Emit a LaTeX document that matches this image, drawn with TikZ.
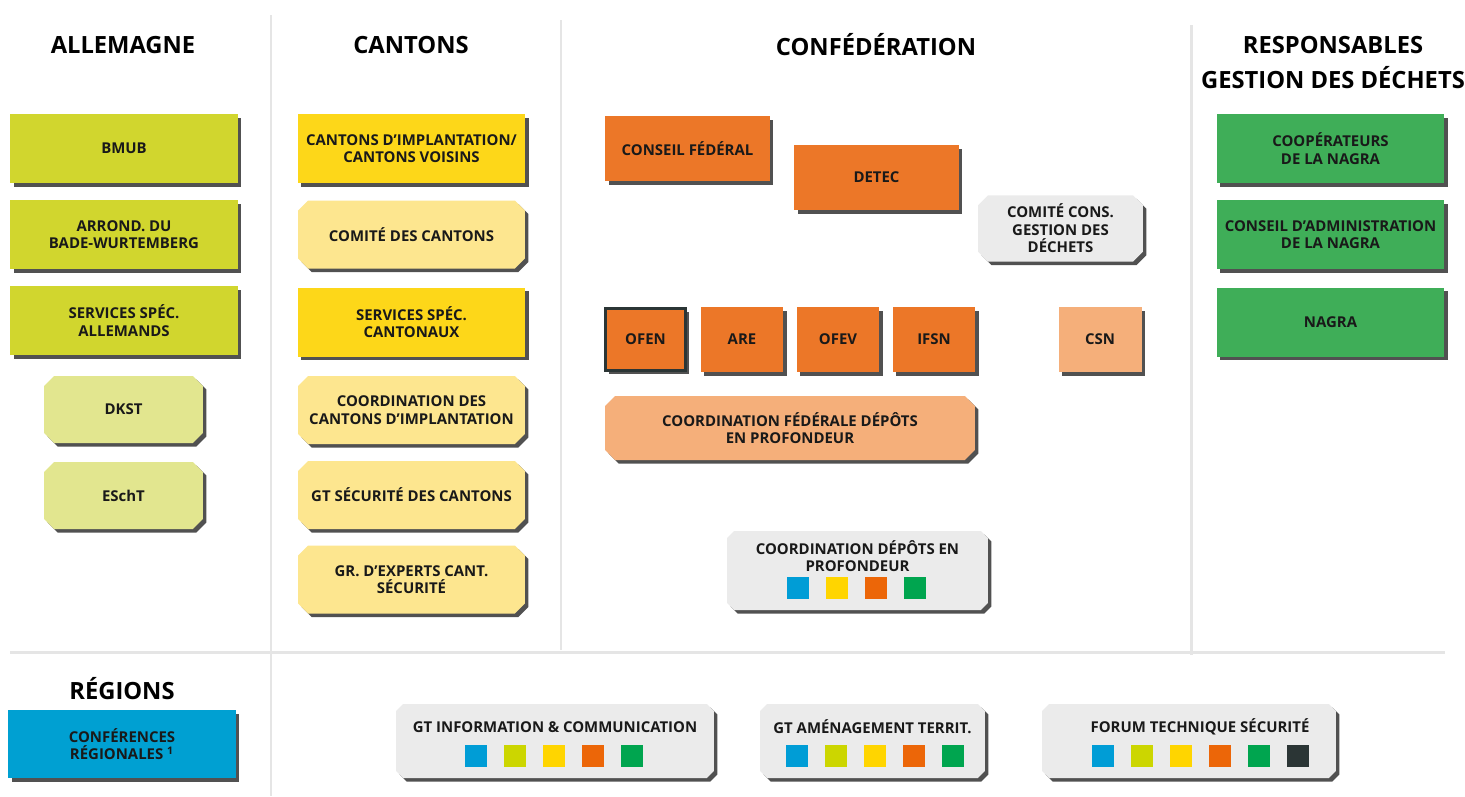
\documentclass[tikz,border=0pt]{standalone}
\usepackage{fontspec}
\setmainfont{Open Sans}
\usepackage{tikz}
\usetikzlibrary{shapes.misc,shadows}
\definecolor{lime}{HTML}{D1D62E}
\definecolor{lightlime}{HTML}{E2E68F}
\definecolor{cantyellow}{HTML}{FDD719}
\definecolor{lightyellow}{HTML}{FDE68F}
\definecolor{fedorange}{HTML}{EC7728}
\definecolor{lightorange}{HTML}{F5AF7A}
\definecolor{paleGray}{HTML}{EBEBEB}
\definecolor{nagragreen}{HTML}{3FAE58}
\definecolor{regblue}{HTML}{00A0D2}
\definecolor{sqblue}{HTML}{009DD6}
\definecolor{sqlime}{HTML}{CCD600}
\definecolor{sqyellow}{HTML}{FFD500}
\definecolor{sqorange}{HTML}{EC6608}
\definecolor{sqgreen}{HTML}{00A54F}
\definecolor{sqdark}{HTML}{2B3535}

\begin{document}
\begin{tikzpicture}[x=0.02cm,y=-0.02cm]
		\tikzstyle{box}=[rectangle, align=center, text=black!90, inner sep=2pt, font=\bfseries\fontsize{8.5}{10}\selectfont, drop shadow={shadow xshift=0.07cm, shadow yshift=-0.07cm, fill=black!85, opacity=0.8}]
		\tikzstyle{cbox}=[box, chamfered rectangle, chamfered rectangle xsep=0.1cm, chamfered rectangle ysep=0.1cm]
		\tikzstyle{wide}=[minimum width=4.56cm, minimum height=1.38cm]
		\tikzstyle{mid}=[minimum width=3.3cm, minimum height=1.3cm]
		\tikzstyle{small}=[minimum width=1.66cm, minimum height=1.3cm]
		\tikzstyle{heading}=[font=\bfseries\fontsize{13.5}{20}\selectfont, align=center]
		\tikzstyle{tag}=[rectangle, minimum size=0.44cm, inner sep=0pt]
		\tikzstyle{sep-line}=[color=black!10, line width=1.7pt]
		\useasboundingbox (0,0) rectangle (1465,796);
		% separators
		\draw [sep-line] (271,15) -- (271,796);
		\draw [sep-line] (561,20) -- (561,650);
		\draw [sep-line] (1191,25) -- (1191,655);
		\draw [sep-line] (10,652) -- (1445,652);
		% headings
		\node [heading] at (123,45) (h-de) {ALLEMAGNE};
		\node [heading] at (411,45) (h-cant) {CANTONS};
		\node [heading] at (876,45) (h-conf) {CONFÉDÉRATION};
		\node [heading] at (1333,62.5) (h-resp) {RESPONSABLES\\GESTION DES DÉCHETS};
		\node [heading] at (122,689) (h-reg) {RÉGIONS};
		% Allemagne
		\node [box, wide, fill=lime] at (124,148.5) (bmub) {BMUB};
		\node [box, wide, fill=lime] at (124,234.5) (arrond) {ARROND. DU\\BADE-WURTEMBERG};
		\node [box, wide, fill=lime] at (124,320.5) (spec-de) {SERVICES SPÉC.\\ALLEMANDS};
		\node [cbox, minimum width=3.18cm, minimum height=1.34cm, fill=lightlime] at (123.5,409.5) (dkst) {DKST};
		\node [cbox, minimum width=3.18cm, minimum height=1.34cm, fill=lightlime] at (123.5,495.5) (escht) {ESchT};
		% Cantons
		\node [box, wide, fill=cantyellow] at (411.5,148.5) (implant) {CANTONS D’IMPLANTATION/\\CANTONS VOISINS};
		\node [cbox, wide, minimum width=4.54cm, minimum height=1.36cm, fill=lightyellow] at (411.5,234.5) (comite-cant) {COMITÉ DES CANTONS};
		\node [box, wide, fill=cantyellow] at (411.5,322) (spec-cant) {SERVICES SPÉC.\\CANTONAUX};
		\node [cbox, wide, minimum width=4.54cm, minimum height=1.36cm, fill=lightyellow] at (411.5,410) (coord-cant) {COORDINATION DES\\CANTONS D’IMPLANTATION};
		\node [cbox, wide, minimum width=4.54cm, minimum height=1.36cm, fill=lightyellow] at (411.5,495) (gt-secu) {GT SÉCURITÉ DES CANTONS};
		\node [cbox, wide, minimum width=4.54cm, minimum height=1.36cm, fill=lightyellow] at (411.5,579.5) (experts) {GR. D’EXPERTS CANT.\\SÉCURITÉ};
		% Confederation
		\node [box, mid, fill=fedorange] at (687.5,148.5) (conseil) {CONSEIL FÉDÉRAL};
		\node [box, mid, fill=fedorange] at (876.5,177.5) (detec) {DETEC};
		\node [cbox, minimum width=3.3cm, minimum height=1.3cm, fill=paleGray] at (1060.5,228.5) (comite-dechets) {COMITÉ CONS.\\GESTION DES\\DÉCHETS};
		\node [box, small, fill=fedorange, draw=sqdark, line width=1.7pt, minimum width=1.6cm, minimum height=1.24cm] at (645.5,339.5) (ofen) {OFEN};
		\node [box, small, fill=fedorange] at (742,339.5) (are) {ARE};
		\node [box, small, fill=fedorange] at (838,339.5) (ofev) {OFEV};
		\node [box, small, fill=fedorange] at (934,339.5) (ifsn) {IFSN};
		\node [box, small, fill=lightorange] at (1100,339.5) (csn) {CSN};
		\node [cbox, minimum width=7.4cm, minimum height=1.28cm, fill=lightorange] at (790,428) (coord-fed) {COORDINATION FÉDÉRALE DÉPÔTS\\EN PROFONDEUR};
		\node [cbox, minimum width=5.22cm, minimum height=1.58cm, fill=paleGray] at (857.5,570.5) (coord-dep) {};
		\node [align=center, font=\bfseries\fontsize{8.5}{10}\selectfont, text=black!90] at (857.5,556) (coord-dep-title) {COORDINATION DÉPÔTS EN\\PROFONDEUR};
		\node [tag, fill=sqblue] at (798,587.5) (cd-1) {};
		\node [tag, fill=sqyellow] at (837,587.5) (cd-2) {};
		\node [tag, fill=sqorange] at (876,587.5) (cd-3) {};
		\node [tag, fill=sqgreen] at (915,587.5) (cd-4) {};
		% Responsables
		\node [box, wide, fill=nagragreen] at (1330.5,148.5) (coop) {COOPÉRATEURS\\DE LA NAGRA};
		\node [box, wide, fill=nagragreen] at (1330.5,234.5) (admin) {CONSEIL D’ADMINISTRATION\\DE LA NAGRA};
		\node [box, wide, fill=nagragreen] at (1330.5,322) (nagra) {NAGRA};
		% Regions
		\node [box, wide, minimum height=1.36cm, fill=regblue] at (122,744) (conf-reg) {CONFÉRENCES\\RÉGIONALES \textsuperscript{1}};
		% groupes de travail
		\node [cbox, minimum width=6.36cm, minimum height=1.48cm, fill=paleGray] at (555,741) (gt-info) {};
		\node [font=\bfseries\fontsize{8.5}{10}\selectfont, text=black!90] at (555,727) (gt-info-title) {GT INFORMATION \& COMMUNICATION};
		\node [tag, fill=sqblue] at (476,755.5) (gi-1) {};
		\node [tag, fill=sqlime] at (515,755.5) (gi-2) {};
		\node [tag, fill=sqyellow] at (554,755.5) (gi-3) {};
		\node [tag, fill=sqorange] at (593,755.5) (gi-4) {};
		\node [tag, fill=sqgreen] at (632,755.5) (gi-5) {};
		\node [cbox, minimum width=4.5cm, minimum height=1.48cm, fill=paleGray] at (872.5,741) (gt-amen) {};
		\node [font=\bfseries\fontsize{8.5}{10}\selectfont, text=black!90] at (872.5,727) (gt-amen-title) {GT AMÉNAGEMENT TERRIT.};
		\node [tag, fill=sqblue] at (797,755.5) (ga-1) {};
		\node [tag, fill=sqlime] at (836,755.5) (ga-2) {};
		\node [tag, fill=sqyellow] at (875,755.5) (ga-3) {};
		\node [tag, fill=sqorange] at (914,755.5) (ga-4) {};
		\node [tag, fill=sqgreen] at (953,755.5) (ga-5) {};
		\node [cbox, minimum width=5.88cm, minimum height=1.48cm, fill=paleGray] at (1189,741) (forum) {};
		\node [font=\bfseries\fontsize{8.5}{10}\selectfont, text=black!90] at (1200,727) (forum-title) {FORUM TECHNIQUE SÉCURITÉ};
		\node [tag, fill=sqblue] at (1103,755.5) (fo-1) {};
		\node [tag, fill=sqlime] at (1142,755.5) (fo-2) {};
		\node [tag, fill=sqyellow] at (1181,755.5) (fo-3) {};
		\node [tag, fill=sqorange] at (1220,755.5) (fo-4) {};
		\node [tag, fill=sqgreen] at (1259,755.5) (fo-5) {};
		\node [tag, fill=sqdark] at (1298,755.5) (fo-6) {};
	\end{tikzpicture}
\end{document}
